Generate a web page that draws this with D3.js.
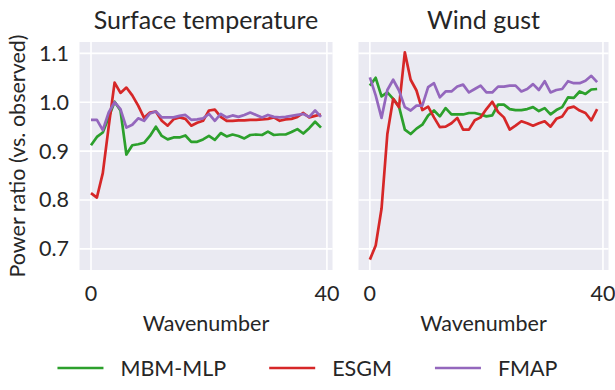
<!DOCTYPE html>
<html>
<head>
<meta charset="utf-8">
<script src="https://cdn.jsdelivr.net/npm/d3@7"></script>
<style>
  body { margin: 0; background: #fff; }
  text { font-family: Lato, "DejaVu Sans", sans-serif; fill: #262626; }
</style>
</head>
<body>
<div id="chart"></div>
<script>
const WIDTH = 615;
const HEIGHT = 390;
const LABEL_SIZE = 21.5;
const TITLE_SIZE = 25;

const panelTitles = ['Surface temperature', 'Wind gust'];
const seriesNames = ['MBM-MLP', 'ESGM', 'FMAP'];
const seriesColors = ['#2ca02c', '#d62728', '#9467bd'];
const xTicks = [0, 40];
const yTicks = [0.7, 0.8, 0.9, 1.0, 1.1];

// surface temperature, wavenumber 0..39
const tempMbm = [0.912, 0.929, 0.938, 0.969, 1.001, 0.983, 0.893, 0.912, 0.914, 0.917,
  0.931, 0.95, 0.931, 0.924, 0.928, 0.928, 0.932, 0.919, 0.919, 0.924,
  0.931, 0.923, 0.937, 0.93, 0.934, 0.931, 0.926, 0.933, 0.934, 0.933,
  0.94, 0.933, 0.934, 0.934, 0.939, 0.945, 0.936, 0.947, 0.96, 0.948];
const tempEsgm = [0.814, 0.805, 0.855, 0.95, 1.04, 1.019, 1.03, 1.014, 0.993, 0.968,
  0.979, 0.981, 0.962, 0.952, 0.965, 0.969, 0.966, 0.952, 0.958, 0.962,
  0.983, 0.985, 0.97, 0.962, 0.962, 0.963, 0.963, 0.964, 0.964, 0.965,
  0.966, 0.969, 0.962, 0.965, 0.966, 0.97, 0.978, 0.969, 0.972, 0.975];
const tempFmap = [0.964, 0.964, 0.943, 0.979, 1.0, 0.986, 0.948, 0.954, 0.967, 0.962,
  0.977, 0.981, 0.969, 0.969, 0.969, 0.972, 0.974, 0.964, 0.965, 0.967,
  0.976, 0.962, 0.976, 0.969, 0.973, 0.97, 0.974, 0.979, 0.974, 0.969,
  0.974, 0.97, 0.969, 0.97, 0.972, 0.974, 0.976, 0.97, 0.983, 0.97];

// wind gust, wavenumber 0..39
const gustMbm = [1.034, 1.05, 1.012, 1.02, 1.007, 0.991, 0.944, 0.935, 0.946, 0.954,
  0.973, 0.983, 0.971, 0.988, 0.975, 0.975, 0.975, 0.978, 0.978, 0.975,
  0.971, 0.973, 0.995, 0.995, 0.986, 0.984, 0.984, 0.986, 0.99, 0.982,
  0.988, 0.975, 0.984, 0.99, 1.01, 1.009, 1.022, 1.017, 1.026, 1.027];
const gustEsgm = [0.678, 0.707, 0.782, 0.935, 1.007, 0.99, 1.102, 1.046, 1.024, 0.984,
  0.991, 0.969, 0.949, 0.95, 0.957, 0.968, 0.944, 0.944, 0.963, 0.969,
  0.986, 1.001, 0.98, 0.969, 0.944, 0.952, 0.961, 0.957, 0.952, 0.957,
  0.961, 0.95, 0.966, 0.971, 0.988, 0.991, 0.983, 0.978, 0.963, 0.986];
const gustFmap = [1.051, 1.014, 0.968, 1.025, 1.046, 1.024, 0.99, 0.983, 0.993, 0.993,
  1.031, 1.039, 1.01, 1.022, 1.022, 1.032, 1.036, 1.02, 1.027, 1.034,
  1.02, 1.02, 1.032, 1.032, 1.034, 1.034, 1.022, 1.027, 1.037, 1.025,
  1.043, 1.02, 1.025, 1.027, 1.043, 1.039, 1.039, 1.044, 1.054, 1.041];

const panelSeries = [
  [tempMbm, tempEsgm, tempFmap],
  [gustMbm, gustEsgm, gustFmap],
];

const panels = [
  { left: 79.5, right: 332.5 },
  { left: 358.5, right: 608.5 },
];
const plotTop = 42;
const plotBottom = 270;

const svg = d3.select('#chart')
  .append('svg')
  .attr('width', WIDTH)
  .attr('height', HEIGHT);

const allValues = panelSeries.flat(2);
const [ minY, maxY ] = d3.extent(allValues);
const padY = (maxY - minY) * 0.05;
const y = d3.scaleLinear()
  .domain([ minY - padY, maxY + padY ])
  .range([ plotBottom, plotTop ]);

panelSeries.forEach((series, p) => {
  const n = series[0].length;
  const padX = (n - 1) * 0.05;
  const x = d3.scaleLinear()
    .domain([ -padX, n - 1 + padX ])
    .range([ panels[p].left, panels[p].right ]);
  const middle = (x.range()[0] + x.range()[1]) / 2;

  const g = svg.append('g');

  g.append('rect')
    .attr('x', x.range()[0])
    .attr('y', plotTop)
    .attr('width', x.range()[1] - x.range()[0])
    .attr('height', plotBottom - plotTop)
    .attr('fill', '#eaeaf2');

  // grid
  g.append('g')
    .selectAll('line')
    .data(yTicks)
    .enter()
      .append('line')
      .attr('x1', x.range()[0])
      .attr('x2', x.range()[1])
      .attr('y1', (d) => y(d))
      .attr('y2', (d) => y(d))
      .attr('stroke', '#fff')
      .attr('stroke-width', 1.6);

  g.append('g')
    .selectAll('line')
    .data(xTicks)
    .enter()
      .append('line')
      .attr('x1', (d) => x(d))
      .attr('x2', (d) => x(d))
      .attr('y1', plotTop)
      .attr('y2', plotBottom)
      .attr('stroke', '#fff')
      .attr('stroke-width', 1.6);

  const line = d3.line()
    .x((d, i) => x(i))
    .y((d) => y(d));

  g.append('g')
    .selectAll('path')
    .data(series)
    .enter()
      .append('path')
      .attr('fill', 'none')
      .attr('stroke', (d, i) => seriesColors[i])
      .attr('stroke-width', 2.7)
      .attr('stroke-linejoin', 'round')
      .attr('d', (d) => line(d));

  // x tick labels
  g.append('g')
    .selectAll('text')
    .data(xTicks)
    .enter()
      .append('text')
      .attr('x', (d) => x(d))
      .attr('y', 301)
      .attr('text-anchor', 'middle')
      .attr('font-size', LABEL_SIZE)
      .text((d) => d);

  g.append('text')
    .attr('x', middle)
    .attr('y', 331)
    .attr('text-anchor', 'middle')
    .attr('font-size', LABEL_SIZE)
    .text('Wavenumber');

  g.append('text')
    .attr('x', middle)
    .attr('y', 29)
    .attr('text-anchor', 'middle')
    .attr('font-size', TITLE_SIZE)
    .text(panelTitles[p]);
});

// y tick labels, left panel only
svg.append('g')
  .selectAll('text')
  .data(yTicks)
  .enter()
    .append('text')
    .attr('x', 69)
    .attr('y', (d) => y(d) + 7.5)
    .attr('text-anchor', 'end')
    .attr('font-size', LABEL_SIZE)
    .text((d) => d.toFixed(1));

svg.append('text')
  .attr('text-anchor', 'middle')
  .attr('transform', `translate(25,${(plotTop + plotBottom) / 2}) rotate(-90)`)
  .attr('font-size', LABEL_SIZE)
  .text('Power ratio (vs. observed)');

// Legend, centred under the figure
const HANDLE = 46;
const HANDLE_PAD = 17;
const COLUMN_GAP = 43;

const legend = svg.append('g')
  .attr('transform', 'translate(0, 368)');

const legendCell = legend
  .selectAll('g')
  .data(seriesNames)
  .enter()
    .append('g');

legendCell.append('line')
  .attr('x1', 0)
  .attr('x2', HANDLE)
  .attr('stroke', (d, i) => seriesColors[i])
  .attr('stroke-width', 2.7);

legendCell.append('text')
  .attr('x', HANDLE + HANDLE_PAD)
  .attr('y', 7.5)
  .attr('font-size', LABEL_SIZE)
  .text((d) => d);

const widths = [];
legendCell.select('text').each(function () {
  widths.push(HANDLE + HANDLE_PAD + this.getComputedTextLength());
});
const total = d3.sum(widths) + COLUMN_GAP * (widths.length - 1);
let cursor = (WIDTH - total) / 2;
legendCell.attr('transform', (d, i) => {
  const at = cursor;
  cursor += widths[i] + COLUMN_GAP;
  return `translate(${at}, 0)`;
});
</script>
</body>
</html>
